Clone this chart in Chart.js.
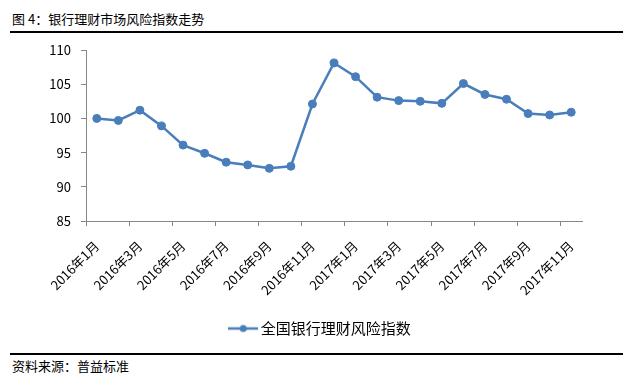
<!DOCTYPE html>
<html>
<head>
<meta charset="utf-8">
<script src="https://cdn.jsdelivr.net/npm/chart.js@4/dist/chart.umd.min.js"></script>
<style>
  html, body { margin: 0; padding: 0; background: #fff; width: 623px; height: 380px; overflow: hidden; }
  #title { position: absolute; left: 12px; top: 9px; font: 13px "Noto Sans CJK SC", sans-serif; color: #000; line-height: 20px; white-space: nowrap; }
  #topline { position: absolute; left: 10px; right: 0; top: 31px; height: 2px; background: #000; }
  #botline { position: absolute; left: 10px; right: 0; top: 353px; height: 2px; background: #000; }
  #source { position: absolute; left: 12px; top: 356px; font: 13px "Noto Sans CJK SC", sans-serif; color: #000; line-height: 20px; white-space: nowrap; }
  #wrap { position: absolute; left: 0; top: 0; width: 644px; height: 346px; }
</style>
</head>
<body>
<div id="title">图 4：银行理财市场风险指数走势</div>
<div id="topline"></div>
<div id="wrap"><canvas id="c"></canvas></div>
<div id="botline"></div>
<div id="source">资料来源：普益标准</div>
<script>
const categories = [
  "2016年1月","2016年2月","2016年3月","2016年4月","2016年5月","2016年6月",
  "2016年7月","2016年8月","2016年9月","2016年10月","2016年11月","2016年12月",
  "2017年1月","2017年2月","2017年3月","2017年4月","2017年5月","2017年6月",
  "2017年7月","2017年8月","2017年9月","2017年10月","2017年11月"
];
const riskIndex = [100.0, 99.7, 101.2, 98.9, 96.1, 94.9, 93.6, 93.2, 92.7, 93.0, 102.1, 108.1,
                   106.1, 103.1, 102.6, 102.5, 102.2, 105.1, 103.5, 102.8, 100.7, 100.5, 100.9];
const seriesName = "全国银行理财风险指数";
const yMin = 85, yMax = 110, yStep = 5;

const blue = "#4A7EBB";
const axisGray = "#868686";

// legend marker: line with a dot
const marker = document.createElement("canvas");
marker.width = 30; marker.height = 10;
(function(){
  const m = marker.getContext("2d");
  m.strokeStyle = blue; m.lineWidth = 2.5;
  m.beginPath(); m.moveTo(0, 5); m.lineTo(30, 5); m.stroke();
  m.fillStyle = blue;
  m.beginPath(); m.arc(15, 5, 3.5, 0, Math.PI * 2); m.fill();
})();

Chart.defaults.font.family = '"Noto Sans CJK SC", sans-serif';
Chart.defaults.color = "#000";

new Chart(document.getElementById("c"), {
  type: "line",
  data: {
    labels: categories,
    datasets: [{
      label: seriesName,
      data: riskIndex,
      yAxisID: "y",
      borderColor: blue,
      backgroundColor: blue,
      borderWidth: 2.5,
      pointRadius: 4,
      pointBackgroundColor: blue,
      pointBorderColor: blue,
      pointBorderWidth: 1,
      tension: 0,
      fill: false
    }]
  },
  options: {
    responsive: true,
    maintainAspectRatio: false,
    animation: false,
    events: [],
    layout: { padding: { top: 50, left: 0, right: 0, bottom: 0 } },
    plugins: {
      tooltip: { enabled: false },
      legend: {
        position: "bottom",
        labels: {
          usePointStyle: true,
          pointStyle: marker,
          pointStyleWidth: 20,
          boxHeight: 10,
          padding: 10,
          font: { size: 15 },
          color: "#000"
        }
      }
    },
    scales: {
      x: {
        type: "category",
        offset: true,
        afterFit: (s) => { s.height = 90; },
        grid: {
          offset: true,
          drawOnChartArea: false,
          drawTicks: true,
          tickLength: 5,
          color: (ctx) => (ctx.index % 2 === 0 ? axisGray : "transparent")
        },
        border: { display: true, color: axisGray, width: 1 },
        ticks: {
          autoSkip: false,
          maxRotation: 45,
          minRotation: 45,
          padding: 12,
          font: { size: 13 },
          color: "#000",
          callback: function(v, i) { return i % 2 === 0 ? this.getLabelForValue(v) : ""; }
        }
      },
      y: {
        min: yMin,
        max: yMax,
        afterFit: (s) => { s.width = 86; },
        grid: { drawOnChartArea: false, drawTicks: true, tickLength: 5, color: axisGray },
        border: { display: true, color: axisGray, width: 1 },
        ticks: { stepSize: yStep, padding: 10, font: { size: 13 }, color: "#000" }
      },
      yRight: {
        type: "linear",
        position: "right",
        min: yMin,
        max: yMax,
        afterFit: (s) => { s.width = 62; },
        grid: { display: false, drawTicks: false },
        border: { display: false },
        ticks: { display: false }
      }
    }
  }
});
</script>
</body>
</html>
